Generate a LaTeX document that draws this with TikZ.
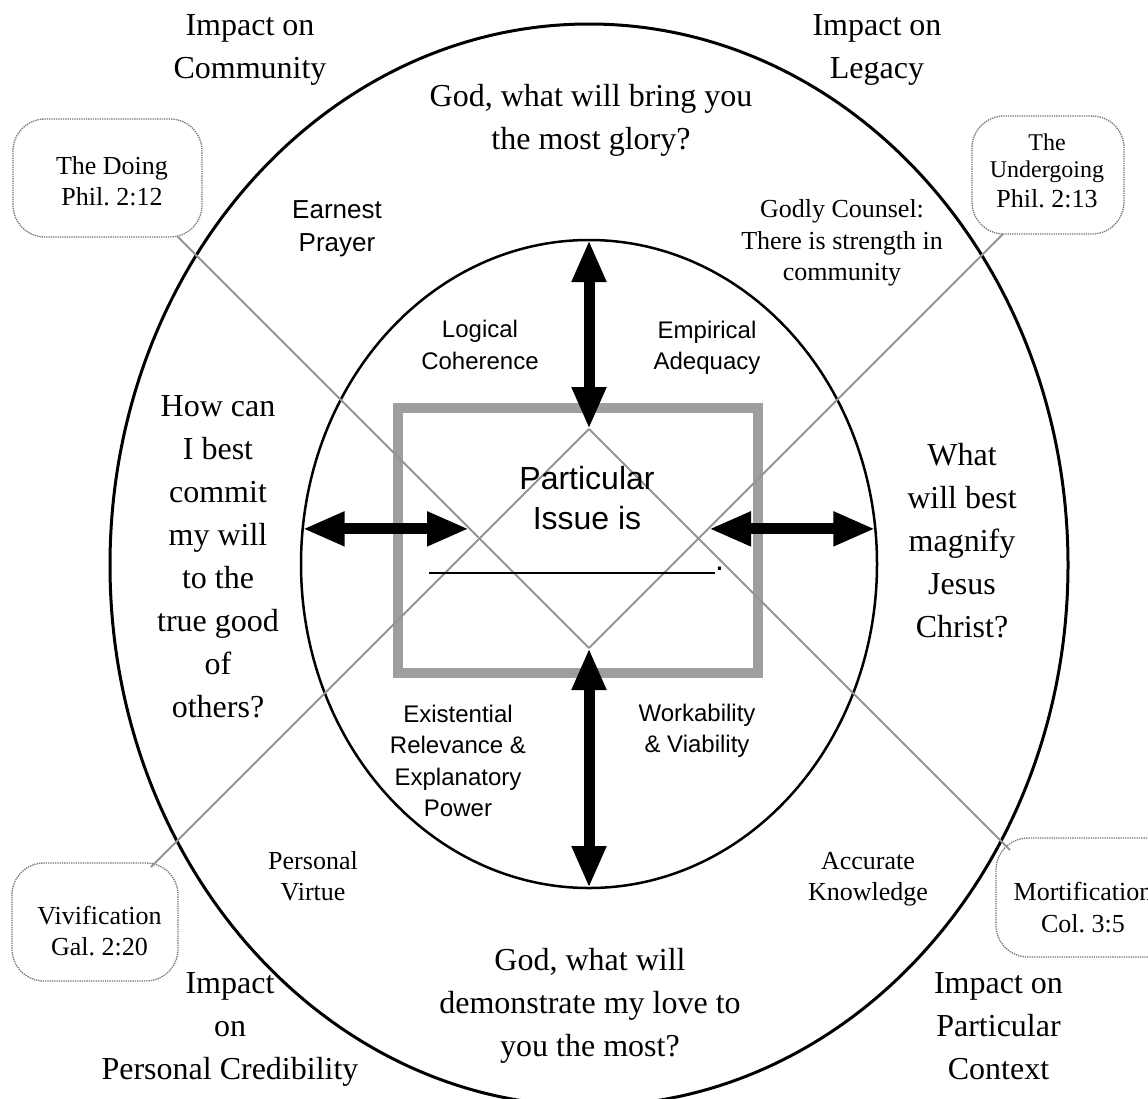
\documentclass[tikz,border=0pt]{standalone}
\usepackage{fontspec}
\setmainfont{Liberation Serif}
\setsansfont{Liberation Sans}
\usetikzlibrary{shapes.geometric,arrows.meta}
\frenchspacing
\begin{document}
\begin{tikzpicture}[x=1pt,y=-1pt,
  ring/.style={draw=black, ellipse, inner sep=0pt, outer sep=0pt},
  diag/.style={draw=black!42, line width=1.8pt},
  callout/.style={draw=black!55, densely dotted, line width=1.3pt, rounded corners=32pt, inner sep=0pt, outer sep=0pt},
  bigarrow/.style={line width=11pt, {Triangle[width=32pt,length=42pt]}-{Triangle[width=32pt,length=42pt]}},
  big/.style={font=\fontsize{32}{43}\selectfont, align=center, inner sep=0pt},
  mid/.style={font=\fontsize{26}{31.5}\selectfont, align=center, inner sep=0pt},
  sml/.style={font=\fontsize{24}{27}\selectfont, align=center, inner sep=0pt},
  sans/.style={font=\sffamily\fontsize{24}{31.5}\selectfont, align=center, inner sep=0pt},
  sansmid/.style={font=\sffamily\fontsize{26}{33}\selectfont, align=center, inner sep=0pt},
  sansbig/.style={font=\sffamily\fontsize{32}{40}\selectfont, align=center, inner sep=0pt},
]
\useasboundingbox (0,0) rectangle (1148,1098);
\fill[white] (0,0) rectangle (1148,1098);

% rings
\node[ring, line width=3pt, minimum width=958pt, minimum height=1082pt] (outer) at (589,565) {};
\node[ring, line width=2.5pt, minimum width=576pt, minimum height=648pt] (inner) at (589,564) {};

% central frame
\node[draw=black!38, line width=10pt, minimum width=360pt, minimum height=265pt, inner sep=0pt] (box) at (578,540.5) {};

% diamond vertices and line ends
\coordinate (top) at (589,429);
\coordinate (bot) at (589,648);
\coordinate (endA) at (177,236);
\coordinate (endB) at (1003,234);
\coordinate (endC) at (151,867);
\coordinate (endD) at (1010,850);
\coordinate (hl) at (469,529);
\coordinate (hr) at (709,529);

% callouts
\node[callout, minimum width=189pt, minimum height=118pt] (doing) at (107.5,178) {};
\node[callout, minimum width=152pt, minimum height=118pt] (undergo) at (1048,175) {};
\node[callout, minimum width=166pt, minimum height=118pt] (vivi) at (95,922) {};
\node[callout, minimum width=190pt, minimum height=119pt] (morti) at (1091,897.5) {};

% diagonal lines
\draw[diag] (endA) -- (bot);
\draw[diag] (endB) -- (bot);
\draw[diag] (endC) -- (top);
\draw[diag] (endD) -- (top);

% arrows
\draw[bigarrow] (inner.north) -- (top);
\draw[bigarrow] (bot) -- (inner.south);
\draw[bigarrow] (inner.173) -- (inner.173 -| hl);
\draw[bigarrow] (hr |- inner.7) -- (inner.7);

% callout texts
\node[mid] (tdoing) at (112,181) {The Doing\\Phil. 2:12};
\node[sml] (tund1) at (1047,158) {The\\Undergoing};
\node[mid] (tund2) at (1047,199) {Phil. 2:13};
\node[mid] (tvivi) at (99.5,931) {Vivification\\Gal. 2:20};
\node[mid] (tmorti) at (1083,907.5) {Mortification\\Col. 3:5};

% outer texts
\node[big] (comm) at (250,50) {Impact on\\Community};
\node[big] (legacy) at (877,50) {Impact on\\Legacy};
\node[big] (glory) at (591,120) {God, what will bring you\\the most glory?};
\node[big] (howcan) at (218,557) {How can\\I best\\commit\\my will\\to the\\true good\\of\\others?};
\node[big] (whatwill) at (962,541) {What\\will best\\magnify\\Jesus\\Christ?};
\node[big] (love) at (590,1006) {God, what will\\demonstrate my love to\\you the most?};
\node[big] (cred) at (230,1029) {Impact\\on\\Personal Credibility};
\node[big] (context) at (998.5,1026) {Impact on\\Particular\\Context};

\node[sansmid] (prayer) at (337,229) {Earnest\\Prayer};
\node[mid] (counsel) at (842,243) {Godly Counsel:\\There is strength in\\community};
\node[mid] (virtue) at (313,876) {Personal\\Virtue};
\node[mid] (knowledge) at (868,879) {Accurate\\Knowledge};

% inner texts
\node[sans] (logical) at (480,345) {Logical\\Coherence};
\node[sans] (empirical) at (707,348) {Empirical\\Adequacy};
\node[sans] (exist) at (458,761) {Existential\\Relevance \&\\Explanatory\\Power};
\node[sans] (work) at (697,731) {Workability\\\& Viability};

% central issue
\node[sansbig] (issue) at (587,498) {Particular\\Issue is};
\node[sansbig, anchor=base west] (blank) at (429,570) {\rule[-4pt]{286pt}{2pt}.};
\end{tikzpicture}
\end{document}
